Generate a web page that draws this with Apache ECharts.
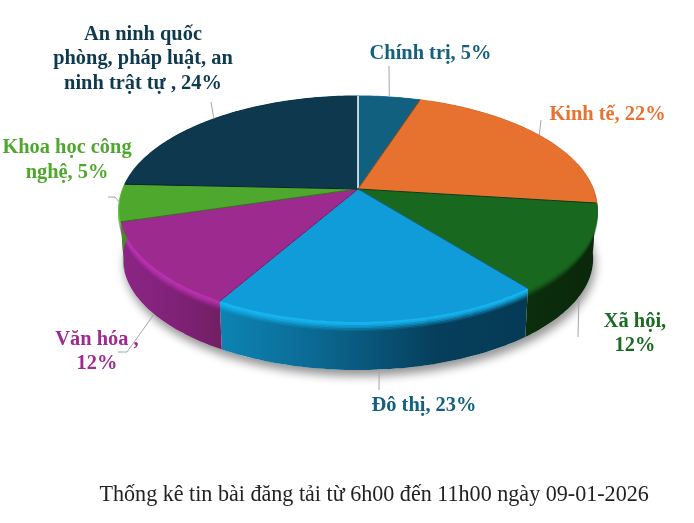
<!DOCTYPE html>
<html><head><meta charset="utf-8">
<style>html,body{margin:0;padding:0;background:#fff}#c{width:694px;height:523px}</style>
<script src="https://cdn.jsdelivr.net/npm/echarts@6/dist/echarts.min.js"></script>
</head><body><div id="c"></div>
<script>
// Printed labels say 23% for "Đô thị" (labels total 103%), but the slice as drawn spans about 19%.
const categories = ['Chính trị','Kinh tế','Xã hội','Đô thị','Văn hóa','Khoa học công nghệ','An ninh quốc phòng, pháp luật, an ninh trật tự'];
const drawnShares = [5, 22, 12.3, 19, 12.1, 5.3, 24.3];
const labelTexts = ['Chính trị, 5%','Kinh tế, 22%','Xã hội,\n12%','Đô thị, 23%','Văn hóa ,\n12%','Khoa học công\nnghệ, 5%','An ninh quốc\nphòng, pháp luật, an\nninh trật tự , 24%'];
const titleText = 'Thống kê tin bài đăng tải từ 6h00 đến 11h00 ngày 09-01-2026';

const topColors = ['#12607f','#e7722f','#19681f','#0f9cd8','#9d2a8e','#4fa82e','#0d384d'];
const edgeColors = ['#0d4a63','#8a4a20','#0c3a10','#0a5f85','#6d1c63','#2f6d1a','#08242f'];
const rimColors = ['#1a7ba0','#d9692a','#19681f','#16b6f2','#b832ae','#5cc436','#0d384d'];
const labelColors = ['#14607f','#e8722f','#196a22','#14607f','#a02a91','#4fa82e','#0e3a50'];
const wallStops = [
  [[0,'#0d4a63'],[1,'#0d4a63']],
  [[0,'#a3511f'],[1,'#a3511f']],
  [[0,'#0b2e0d'],[1,'#0a280b']],
  [[0,'#0d84b4'],[.3,'#0b6a94'],[.7,'#063f5c'],[1,'#053a55']],
  [[0,'#8c2586'],[.6,'#7e2176'],[1,'#721f62']],
  [[0,'#3f8e26'],[1,'#3f8e26']],
  [[0,'#08242f'],[1,'#08242f']]
];
const labelCenters = [[430.5,53.5],[607.5,114.5],[635,333.5],[424,405.5],[97,351.5],[67,160],[143,59]];
const leaderEnds = [[[389,66]],[[541,120]],[[578,337]],[[379,390]],[[127,352],[118,352]],[[115,197],[108,197]],[[211,102]]];
const leaderOnBase = [false,false,true,true,true,false,false];

const apex = [358,189], A = 235, B = 109.5, K = 0.177, baseScale = 0.985, baseDrop = 50;
const total = drawnShares.reduce((a,b)=>a+b,0);
let run = 0;
const spans = drawnShares.map(v=>{const s=run; run+=v; return [s/total*Math.PI*2,run/total*Math.PI*2];});

function rim(t){const X=Math.sin(t),Y=Math.cos(t),w=1+K*Y;return [apex[0]+A*X/w,apex[1]-B*Y/w];}
function base(t){const p=rim(t);return [apex[0]+(p[0]-apex[0])*baseScale,apex[1]+(p[1]-apex[1])*baseScale+baseDrop];}
function arc(fn,a,b){const n=Math.max(4,Math.ceil((b-a)/0.02)),o=[];for(let i=0;i<=n;i++)o.push(fn(a+(b-a)*i/n));return o;}

const fades = [[0.5,1],[2,.9],[3.5,.7],[5,.5],[6.5,.3],[8,.15]];

function renderShadow(){
  return {type:'polygon',silent:true,shape:{points:arc(base,0,Math.PI*2)},
    style:{fill:'#fff',shadowColor:'rgba(0,0,0,.42)',shadowBlur:10,shadowOffsetX:2,shadowOffsetY:6}};
}
function renderWall(p,api){
  const i=api.value(0),a=spans[i][0],b=spans[i][1];
  const top=arc(rim,a,b),bot=arc(base,a,b).reverse();
  const kids=[{type:'polygon',silent:true,shape:{points:top.concat(bot)},
    style:{fill:new echarts.graphic.LinearGradient(0,0,1,0,wallStops[i].map(s=>({offset:s[0],color:s[1]})))}}];
  fades.forEach(f=>kids.push({type:'polyline',silent:true,shape:{points:top.map(q=>[q[0],q[1]+f[0]])},
    style:{stroke:rimColors[i],lineWidth:2,opacity:f[1],fill:'none'}}));
  return {type:'group',children:kids};
}
function renderTop(p,api){
  const i=api.value(0),a=spans[i][0],b=spans[i][1];
  const pts=arc(rim,a,b);
  return {type:'group',children:[
    {type:'polygon',silent:true,shape:{points:[apex].concat(pts)},style:{fill:topColors[i]}}
  ]};
}
function renderEdge(p,api){
  const i=api.value(0),a=spans[i][0];
  return {type:'polyline',silent:true,shape:{points:[apex,rim(a)]},
    style:{stroke:i===0?'#f2f6f8':edgeColors[i],lineWidth:i===0?1.6:1,fill:'none'}};
}
function renderNote(p,api){
  const i=api.value(0),m=(spans[i][0]+spans[i][1])/2;
  const start=(leaderOnBase[i]?base:rim)(m);
  return {type:'group',children:[
    {type:'polyline',silent:true,shape:{points:[start].concat(leaderEnds[i])},style:{stroke:'#a6a6a6',lineWidth:1,fill:'none'}},
    {type:'text',silent:true,style:{x:labelCenters[i][0],y:labelCenters[i][1],text:labelTexts[i],align:'center',verticalAlign:'middle',
      fill:labelColors[i],font:'bold 20.4px "Liberation Serif"',lineHeight:24.5}}
  ]};
}
const idx = categories.map((c,i)=>[i]);
const custom = (fn,data,z)=>({type:'custom',coordinateSystem:'none',renderItem:fn,data,z,animation:false,silent:true,clip:false});
const chart = echarts.init(document.getElementById('c'),null,{renderer:'canvas'});
chart.setOption({
  animation:false,backgroundColor:'#fff',
  title:{text:titleText,left:94.5,top:479,textStyle:{fontFamily:'Liberation Serif',fontWeight:'normal',fontSize:22.1,color:'#222'}},
  series:[
    custom(renderShadow,[[0]],1),
    custom(renderWall,idx,2),
    custom(renderTop,idx,3),
    custom(renderEdge,idx,4),
    custom(renderNote,idx,5)
  ]
});
</script></body></html>
